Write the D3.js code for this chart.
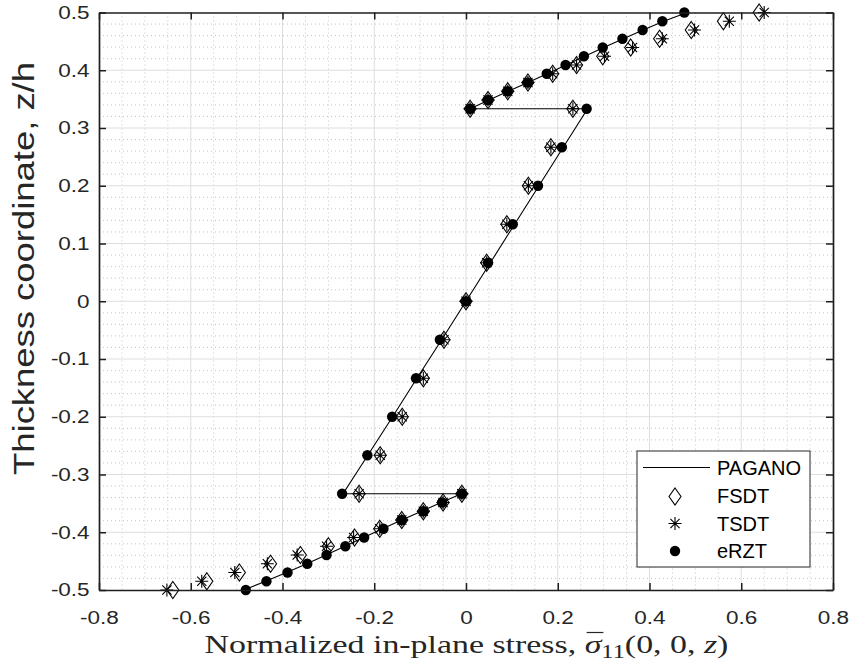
<!DOCTYPE html>
<html><head><meta charset="utf-8">
<script src="https://cdn.jsdelivr.net/npm/d3@7"></script>
<style>body{margin:0;background:#fff} svg{display:block}</style>
</head><body><svg id="c" width="850" height="668"></svg>
<script>
// ---- data ----
const zBottom = [-0.5, -0.4848, -0.4697, -0.4545, -0.4394, -0.4242, -0.4091, -0.3939, -0.3788, -0.3636, -0.3485, -0.3333];
const zMiddle = [-0.3333, -0.2667, -0.2, -0.1333, -0.0667, 0, 0.0667, 0.1333, 0.2, 0.2667, 0.3333];
const zTop    = [0.3333, 0.3485, 0.3636, 0.3788, 0.3939, 0.4091, 0.4242, 0.4394, 0.4545, 0.4697, 0.4848, 0.5];

const paganoBottom = [-0.484, -0.437, -0.391, -0.347, -0.305, -0.264, -0.223, -0.182, -0.140, -0.097, -0.054, -0.010];
const paganoMiddle = [-0.268, -0.214, -0.160, -0.107, -0.053, 0.000, 0.053, 0.106, 0.159, 0.212, 0.265];
const paganoTop    = [0.009, 0.050, 0.092, 0.135, 0.177, 0.218, 0.259, 0.300, 0.343, 0.386, 0.431, 0.482];

const fsdtBottom = [-0.639, -0.565, -0.494, -0.426, -0.361, -0.300, -0.243, -0.188, -0.140, -0.093, -0.050, -0.009];
const fsdtMiddle = [-0.233, -0.187, -0.139, -0.093, -0.048, 0.000, 0.045, 0.089, 0.136, 0.185, 0.233];
const fsdtTop    = [0.009, 0.048, 0.091, 0.135, 0.189, 0.241, 0.298, 0.359, 0.422, 0.491, 0.561, 0.639];

const tsdtBottom = [-0.652, -0.576, -0.504, -0.433, -0.368, -0.304, -0.245, -0.188, -0.140, -0.093, -0.050, -0.009];
const tsdtMiddle = [-0.233, -0.187, -0.139, -0.093, -0.048, 0.000, 0.045, 0.089, 0.136, 0.185, 0.233];
const tsdtTop    = [0.009, 0.048, 0.091, 0.135, 0.189, 0.241, 0.302, 0.363, 0.428, 0.498, 0.574, 0.650];

const erztBottom = [-0.480, -0.435, -0.389, -0.346, -0.304, -0.263, -0.222, -0.180, -0.140, -0.093, -0.052, -0.009];
const erztMiddle = [-0.270, -0.215, -0.161, -0.109, -0.057, 0.000, 0.048, 0.102, 0.157, 0.209, 0.263];
const erztTop    = [0.009, 0.048, 0.091, 0.135, 0.176, 0.217, 0.257, 0.298, 0.341, 0.385, 0.428, 0.476];

const xTickValues = [-0.8, -0.6, -0.4, -0.2, 0, 0.2, 0.4, 0.6, 0.8];
const xTickLabels = ["-0.8", "-0.6", "-0.4", "-0.2", "0", "0.2", "0.4", "0.6", "0.8"];
const yTickValues = [-0.5, -0.4, -0.3, -0.2, -0.1, 0, 0.1, 0.2, 0.3, 0.4, 0.5];
const yTickLabels = ["-0.5", "-0.4", "-0.3", "-0.2", "-0.1", "0", "0.1", "0.2", "0.3", "0.4", "0.5"];
const seriesNames = ["PAGANO", "FSDT", "TSDT", "eRZT"];
const xTitle = "Normalized in-plane stress, ";
const yTitle = "Thickness coordinate, z/h";

// ---- build ----
const zAll = zBottom.concat(zMiddle, zTop);
const toPts = (b, m, t) => b.concat(m, t).map((x, i) => ({ x, z: zAll[i] }));
const pagano = toPts(paganoBottom, paganoMiddle, paganoTop);
const fsdt = toPts(fsdtBottom, fsdtMiddle, fsdtTop);
const tsdt = toPts(tsdtBottom, tsdtMiddle, tsdtTop);
const erzt = toPts(erztBottom, erztMiddle, erztTop);

const L = 99, R = 833, T = 12.5, B = 590;
const x = d3.scaleLinear().domain([-0.8, 0.8]).range([L, R]);
const y = d3.scaleLinear().domain([-0.5, 0.5]).range([B, T]);
const svg = d3.select("#c");
const axisColor = "#1e1e1e";

// grid
const grid = svg.append("g");
const near = (v, arr) => arr.some(a => Math.abs(a - v) < 1e-6);
const xMinor = d3.range(-0.8, 0.8001, 0.05).filter(v => !near(v, xTickValues));
const yMinor = d3.range(-0.5, 0.5001, 0.02).filter(v => !near(v, yTickValues));
grid.selectAll(".xm").data(xMinor).join("line")
  .attr("x1", d => x(d)).attr("x2", d => x(d)).attr("y1", T).attr("y2", B)
  .attr("stroke", "#b5b5b5").attr("stroke-width", 0.8).attr("stroke-dasharray", "1 3");
grid.selectAll(".ym").data(yMinor).join("line")
  .attr("y1", d => y(d)).attr("y2", d => y(d)).attr("x1", L).attr("x2", R)
  .attr("stroke", "#b5b5b5").attr("stroke-width", 0.8).attr("stroke-dasharray", "1 3");
grid.selectAll(".xM").data(xTickValues.slice(1, -1)).join("line")
  .attr("x1", d => x(d)).attr("x2", d => x(d)).attr("y1", T).attr("y2", B)
  .attr("stroke", "#dedede").attr("stroke-width", 1);
grid.selectAll(".yM").data(yTickValues.slice(1, -1)).join("line")
  .attr("y1", d => y(d)).attr("y2", d => y(d)).attr("x1", L).attr("x2", R)
  .attr("stroke", "#dedede").attr("stroke-width", 1);

// data marks
const line = d3.line().x(d => x(d.x)).y(d => y(d.z));
svg.append("path").datum(pagano).attr("d", line)
  .attr("fill", "none").attr("stroke", "#000").attr("stroke-width", 1.1);

const diamondPath = "M0,-8.5L6,0L0,8.5L-6,0Z";
const starPath = "M0,-6.5V6.5M-6.5,0H6.5M-4.6,-4.6L4.6,4.6M-4.6,4.6L4.6,-4.6";
svg.append("g").selectAll("path").data(fsdt).join("path")
  .attr("transform", d => `translate(${x(d.x)},${y(d.z)})`)
  .attr("d", diamondPath).attr("fill", "none").attr("stroke", "#000").attr("stroke-width", 1.1);
svg.append("g").selectAll("path").data(tsdt).join("path")
  .attr("transform", d => `translate(${x(d.x)},${y(d.z)})`)
  .attr("d", starPath).attr("fill", "none").attr("stroke", "#000").attr("stroke-width", 1.1);
svg.append("g").selectAll("circle").data(erzt).join("circle")
  .attr("cx", d => x(d.x)).attr("cy", d => y(d.z)).attr("r", 5.2).attr("fill", "#000");

// axes
const fmtX = d => xTickLabels[xTickValues.indexOf(d)];
const fmtY = d => yTickLabels[yTickValues.indexOf(d)];
const styleAxis = g => {
  g.select(".domain").attr("stroke", axisColor).attr("stroke-width", 1.7);
  g.selectAll(".tick line").attr("stroke", axisColor).attr("stroke-width", 1.5);
  g.selectAll(".tick text").attr("fill", "#262626")
    .style("font-family", "'Liberation Sans', Arial, sans-serif").style("font-size", "18px");
};
const gx = svg.append("g").attr("transform", `translate(0,${B})`)
  .call(d3.axisBottom(x).tickValues(xTickValues).tickFormat(fmtX).tickSize(-7).tickSizeOuter(0).tickPadding(21));
styleAxis(gx);
gx.selectAll(".tick text").attr("transform", "scale(1.25,1)");
const gy = svg.append("g").attr("transform", `translate(${L},0)`)
  .call(d3.axisLeft(y).tickValues(yTickValues).tickFormat(fmtY).tickSize(-7).tickSizeOuter(0).tickPadding(7.5));
styleAxis(gy);
gy.selectAll(".tick text").attr("transform", "scale(1.25,1)");
const gt = svg.append("g").attr("transform", `translate(0,${T})`)
  .call(d3.axisTop(x).tickValues(xTickValues).tickFormat("").tickSize(-7).tickSizeOuter(0));
styleAxis(gt);
const gr = svg.append("g").attr("transform", `translate(${R},0)`)
  .call(d3.axisRight(y).tickValues(yTickValues).tickFormat("").tickSize(-7).tickSizeOuter(0));
styleAxis(gr);

// y title
const yt = svg.append("text").attr("text-anchor", "middle")
  .style("font-family", "'Liberation Sans', Arial, sans-serif").style("font-size", "30px")
  .attr("fill", "#262626").text(yTitle);
const ytw = yt.node().getComputedTextLength();
yt.attr("transform", `translate(34,268.5) rotate(-90) scale(${413 / ytw},1)`);

// x title
const xg = svg.append("g");
const xt = xg.append("text").attr("text-anchor", "middle")
  .style("font-family", "'Liberation Serif', 'Times New Roman', serif").style("font-size", "25px")
  .attr("fill", "#262626");
xt.append("tspan").text(xTitle);
xt.append("tspan").style("font-style", "italic").text("σ");
xt.append("tspan").attr("dy", 5).style("font-size", "18px").text("11");
xt.append("tspan").attr("dy", -5).text("(0, 0, ");
xt.append("tspan").style("font-style", "italic").text("z");
xt.append("tspan").text(")");
const xtw = xt.node().getComputedTextLength();
const sx = 524 / xtw;
xg.attr("transform", `translate(466.5,653) scale(${sx},1)`);
const si = xTitle.length;
const s0 = xt.node().getStartPositionOfChar(si).x;
const s1 = xt.node().getEndPositionOfChar(si).x;
xg.append("line").attr("x1", s0 + 1.5).attr("x2", s1 + 1.5).attr("y1", -20.5).attr("y2", -20.5)
  .attr("stroke", "#262626").attr("stroke-width", 1.2);

// legend
const lg = svg.append("g");
lg.append("rect").attr("x", 637).attr("y", 451).attr("width", 173).attr("height", 116)
  .attr("fill", "#fff").attr("stroke", "#262626").attr("stroke-width", 1);
const rowY = [467.5, 496.5, 523.5, 551];
const baseY = [475, 503, 531, 558];
lg.append("line").attr("x1", 643).attr("x2", 710).attr("y1", rowY[0]).attr("y2", rowY[0])
  .attr("stroke", "#000").attr("stroke-width", 1.1);
lg.append("path").attr("transform", `translate(675,${rowY[1]})`).attr("d", diamondPath)
  .attr("fill", "none").attr("stroke", "#000").attr("stroke-width", 1.1);
lg.append("path").attr("transform", `translate(675,${rowY[2]})`).attr("d", starPath)
  .attr("fill", "none").attr("stroke", "#000").attr("stroke-width", 1.1);
lg.append("circle").attr("cx", 675).attr("cy", rowY[3]).attr("r", 5.2).attr("fill", "#000");
lg.selectAll("text").data(seriesNames).join("text")
  .attr("x", 717).attr("y", (d, i) => baseY[i])
  .style("font-family", "'Liberation Sans', Arial, sans-serif").style("font-size", "20px")
  .attr("fill", "#000").text(d => d);
</script></body></html>
